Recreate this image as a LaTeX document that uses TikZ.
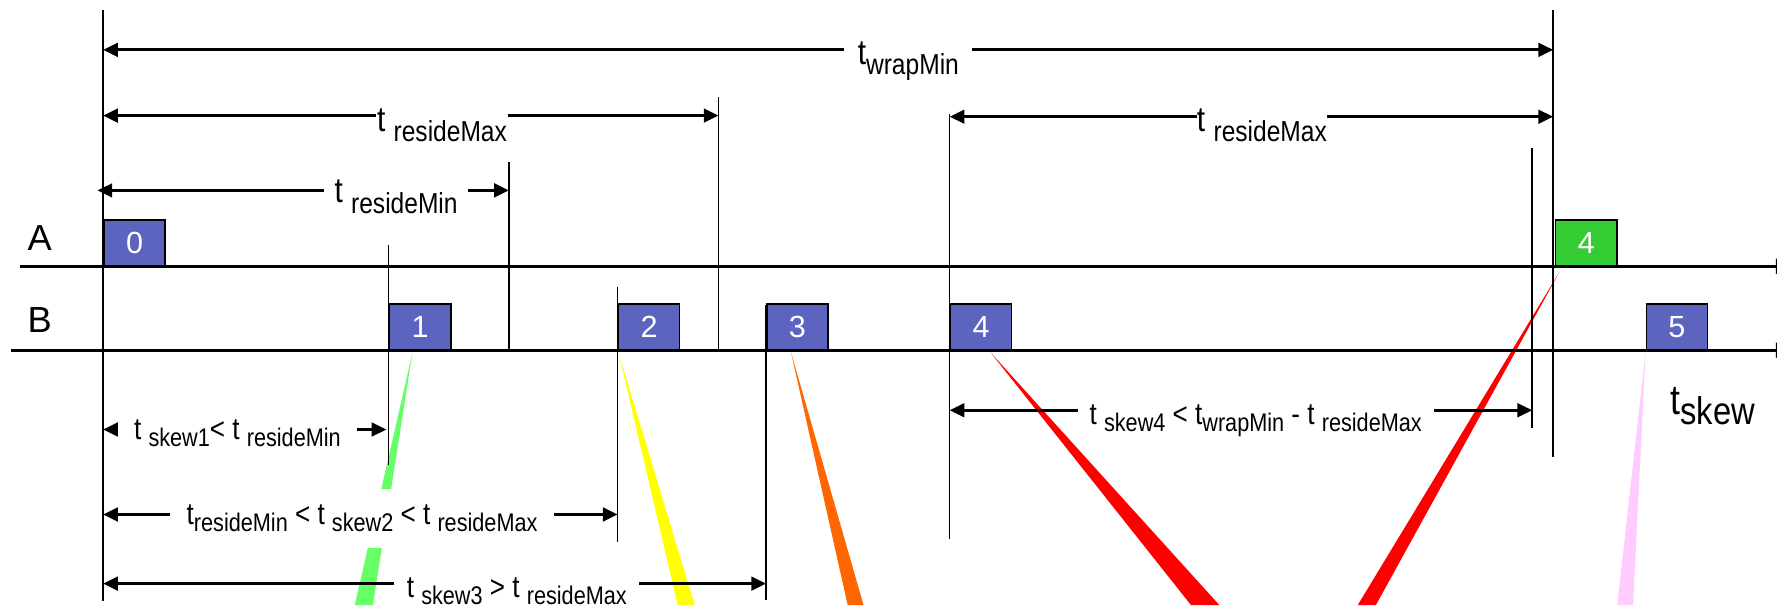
\documentclass[tikz,border=0pt]{standalone}
\usepackage{fontspec}
\setmainfont{Liberation Sans}
\newfontfamily\lblfont{Liberation Sans}[FakeStretch=0.85]
\usetikzlibrary{arrows.meta}
\definecolor{boxblue}{RGB}{92,100,192}
\definecolor{boxgreen}{RGB}{51,204,51}
\definecolor{wgreen}{RGB}{102,255,102}
\definecolor{wyellow}{RGB}{255,255,0}
\definecolor{worange}{RGB}{255,102,0}
\definecolor{wred}{RGB}{255,0,0}
\definecolor{wpink}{RGB}{255,204,255}
\newcommand{\sA}[1]{\raisebox{-9pt}{\fontsize{25.5}{25.5}\selectfont #1}}
\newcommand{\sB}[1]{\raisebox{-6pt}{\fontsize{22.5}{22.5}\selectfont #1}}
\newcommand{\sC}[1]{\raisebox{-9pt}{\fontsize{34}{34}\selectfont #1}}
\begin{document}
\begin{tikzpicture}[x=1pt,y=-1pt,
  vline/.style={line width=1.3pt},
  axisline/.style={line width=2.6pt,-{Triangle[length=13pt,width=13pt]}},
  dimarrow/.style={line width=2.5pt,{Triangle[length=13pt,width=12pt]}-{Triangle[length=13pt,width=12pt]}},
  rightarrow/.style={line width=2.5pt,-{Triangle[length=13pt,width=12pt]}},
  toplbl/.style={fill=white,inner sep=0pt,anchor=base,minimum height=36pt,font=\lblfont\fontsize{31}{31}\selectfont},
  botlbl/.style={fill=white,inner sep=0pt,anchor=base,minimum height=34pt,font=\lblfont\fontsize{27}{27}\selectfont},
  pkt/.style={draw=black,line width=1.4pt,fill=boxblue,text=white,minimum width=54pt,minimum height=40pt,inner sep=0pt,anchor=south west,font=\fontsize{27}{27}\selectfont},
  rowlbl/.style={anchor=base,inner sep=0pt,font=\fontsize{32}{32}\selectfont}]
\path[use as bounding box,fill=white] (0,0) rectangle (1568,534);
\clip (0,0) rectangle (1568,534);
% wedges
\fill[wgreen]  (364,311) -- (313,534) -- (329,534) -- cycle;
\fill[wyellow] (546,312) -- (598,534) -- (613,534) -- cycle;
\fill[worange] (698,311) -- (748,534) -- (762,534) -- cycle;
\fill[wred]    (874,311) -- (1051,534) -- (1076,534) -- cycle;
\fill[wred]    (1376,240) -- (1198,534) -- (1214,534) -- cycle;
\fill[wpink]   (1452,311) -- (1427,534) -- (1441,534) -- cycle;
% vertical marker lines
\coordinate (v0t) at (91,9);      \coordinate (v0b) at (91,530);
\coordinate (vRt) at (1370.5,9);  \coordinate (vRb) at (1370.5,403);
\coordinate (v1t) at (634,86);    \coordinate (v1b) at (634,311);
\coordinate (v2t) at (449,143);   \coordinate (v2b) at (449,309);
\coordinate (v3t) at (343,216);   \coordinate (v3b) at (343,410);
\coordinate (v4t) at (545,253);   \coordinate (v4b) at (545,478);
\coordinate (v5t) at (676,269);   \coordinate (v5b) at (676,529);
\coordinate (v6t) at (838,101);   \coordinate (v6b) at (838,476);
\coordinate (v7t) at (1352,131);  \coordinate (v7b) at (1352,378);
\foreach \v in {0,R,1,2,3,4,5,6,7} {\draw[vline] (v\v t) -- (v\v b);}
% time axes
\coordinate (aL) at (18,235);  \coordinate (aR) at (1580,235);
\coordinate (bL) at (10,309);  \coordinate (bR) at (1580,309);
\draw[axisline] (aL) -- (aR);
\draw[axisline] (bL) -- (bR);
% dimension arrows
\coordinate (wrL) at (91,44);    \coordinate (wrR) at (1370.5,44);
\coordinate (m1L) at (91,102);   \coordinate (m1R) at (634,102);
\coordinate (mnL) at (86,168);   \coordinate (mnR) at (449,168);
\coordinate (m2L) at (838,103);  \coordinate (m2R) at (1370.5,103);
\coordinate (k4L) at (838,362);  \coordinate (k4R) at (1352,362);
\coordinate (k1L) at (91,379);   \coordinate (k1R) at (341,379);
\coordinate (k2L) at (91,454);   \coordinate (k2R) at (545,454);
\coordinate (k3L) at (91,515);   \coordinate (k3R) at (676,515);
\draw[dimarrow] (wrL) -- (wrR);
\draw[dimarrow] (m1L) -- (m1R);
\draw[dimarrow] (mnL) -- (mnR);
\draw[dimarrow] (m2L) -- (m2R);
\draw[dimarrow] (k4L) -- (k4R);
\draw[dimarrow] (k1L) -- (k1R);
\draw[dimarrow] (k2L) -- (k2R);
\draw[dimarrow] (k3L) -- (k3R);
% labels
\node[toplbl,minimum width=113pt] (lwr) at (801.5,57) {t\sA{wrapMin}};
\node[toplbl,minimum width=116pt] (lm1) at (390,116) {t \sA{resideMax}};
\node[toplbl,minimum width=127pt] (lmn) at (349.5,179) {t \sA{resideMin}};
\node[toplbl,minimum width=115pt] (lm2) at (1113.5,116) {t \sA{resideMax}};
\node[botlbl,minimum width=314pt] (lk4) at (1108,375) {t \sB{skew4} < t\sB{wrapMin} - t \sB{resideMax}};
\node[botlbl,minimum width=211pt] (lk1) at (209.5,388) {t \sB{skew1}< t \sB{resideMin}};
\node[botlbl,minimum width=339pt,minimum height=52pt] (lk2) at (319.5,463) {t\sB{resideMin} < t \sB{skew2} < t \sB{resideMax}};
\node[botlbl,minimum width=216pt] (lk3) at (456,527) {t \sB{skew3} > t \sB{resideMax}};
\node[anchor=base west,inner sep=0pt,font=\lblfont\fontsize{37}{37}\selectfont] (lsk) at (1474,366) {t\sC{skew}};
% packets
\node[pkt] (p0) at (91,235) {0};
\node[pkt] (p1) at (343,309) {1};
\node[pkt] (p2) at (545,309) {2};
\node[pkt] (p3) at (676,309) {3};
\node[pkt] (p4) at (838,309) {4};
\node[pkt,fill=boxgreen] (q4) at (1372,235) {4};
\node[pkt] (p5) at (1452,309) {5};
% row labels
\node[rowlbl] (rA) at (35,220.6) {A};
\node[rowlbl] (rB) at (35,293) {B};
\end{tikzpicture}
\end{document}
